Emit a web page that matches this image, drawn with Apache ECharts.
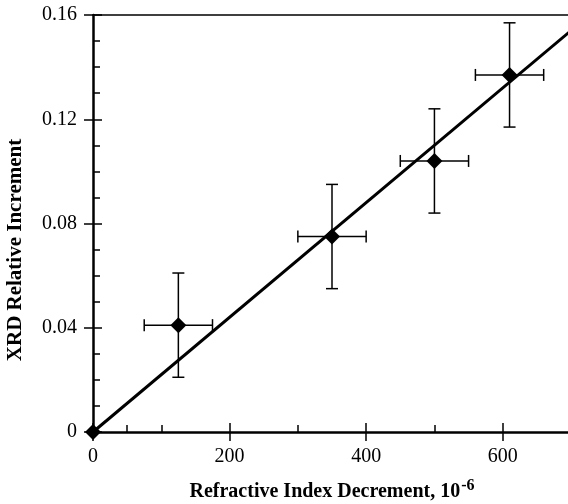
<!DOCTYPE html>
<html>
<head>
<meta charset="utf-8">
<script src="https://cdn.jsdelivr.net/npm/echarts@6/dist/echarts.min.js"></script>
<style>
  html, body { margin: 0; padding: 0; background: #fff; }
  #chart { width: 568px; height: 504px; }
</style>
</head>
<body>
<div id="chart"></div>
<script>
// Measured points: refractive index decrement (1e-6) vs XRD relative increment
const decrement = [0, 125, 350, 500, 610];
const increment = [0, 0.041, 0.075, 0.104, 0.137];
const decrementErr = [0, 50, 50, 50, 50];
const incrementErr = [0, 0.02, 0.02, 0.02, 0.02];

// Linear fit through the origin
const fitX = [0, 700];
const fitY = [0, 0.154];

// Axis ranges and ticks
const xRange = [0, 700];
const yRange = [0, 0.16];
const xStep = 200;
const yStep = 0.04;
const xMinorTicks = [50, 100, 300, 500];

const serif = '"Liberation Serif", "Times New Roman", serif';

const points = decrement.map((x, i) => [x, increment[i]]);
const errData = decrement.map((x, i) => [x, increment[i], decrementErr[i], incrementErr[i]]);
const fitData = fitX.map((x, i) => [x, fitY[i]]);

function renderErr(params, api) {
  const x = api.value(0), y = api.value(1), dx = api.value(2), dy = api.value(3);
  if (!dx && !dy) return null;
  const top = api.coord([x, y + dy]);
  const bot = api.coord([x, y - dy]);
  const lft = api.coord([x - dx, y]);
  const rgt = api.coord([x + dx, y]);
  const cap = 6;
  const style = { stroke: '#000', lineWidth: 1.5, fill: null };
  const line = (x1, y1, x2, y2) => ({ type: 'line', shape: { x1, y1, x2, y2 }, style });
  return {
    type: 'group',
    children: [
      line(top[0], top[1], bot[0], bot[1]),
      line(top[0] - cap, top[1], top[0] + cap, top[1]),
      line(bot[0] - cap, bot[1], bot[0] + cap, bot[1]),
      line(lft[0], lft[1], rgt[0], rgt[1]),
      line(lft[0], lft[1] - cap, lft[0], lft[1] + cap),
      line(rgt[0], rgt[1] - cap, rgt[0], rgt[1] + cap)
    ]
  };
}

const hidden = { show: false };
const baseX = { type: 'value', min: xRange[0], max: xRange[1], interval: xStep, splitLine: hidden };
const baseY = { type: 'value', min: yRange[0], max: yRange[1], interval: yStep, splitLine: hidden };

const chart = echarts.init(document.getElementById('chart'), null, { renderer: 'canvas' });
chart.setOption({
  animation: false,
  backgroundColor: '#fff',
  grid: { left: 93, right: -3, top: 15, bottom: 72, containLabel: false, outerBoundsMode: 'none' },
  xAxis: [
    Object.assign({}, baseX, {
      position: 'bottom',
      axisLine: { show: true, lineStyle: { color: '#000', width: 2.5 } },
      axisTick: { show: true, inside: false, length: 9, lineStyle: { color: '#000', width: 1.5 } },
      axisLabel: {
        show: true, margin: 15, color: '#000', fontFamily: serif, fontSize: 20,
        showMaxLabel: false,
        formatter: v => (v >= xRange[1] ? '' : String(v))
      },
      name: '{m|Refractive Index Decrement, 10}{s|-6}',
      nameLocation: 'middle',
      nameGap: 46,
      nameTextStyle: {
        rich: {
          m: { fontFamily: serif, fontSize: 20, fontWeight: 'bold', color: '#000', verticalAlign: 'bottom', lineHeight: 24 },
          s: { fontFamily: serif, fontSize: 16, fontWeight: 'bold', color: '#000', verticalAlign: 'top', lineHeight: 24, padding: [0, 0, 10, 1] }
        }
      }
    }),
    Object.assign({}, baseX, {
      position: 'bottom',
      axisLine: { show: false },
      axisTick: { show: true, inside: true, length: 9, lineStyle: { color: '#000', width: 1.5 } },
      axisLabel: { show: false }
    }),
    Object.assign({}, baseX, {
      position: 'bottom',
      axisLine: { show: false },
      axisTick: { show: true, inside: true, length: 7, customValues: xMinorTicks, lineStyle: { color: '#000', width: 1.5 } },
      axisLabel: { show: false }
    }),
    Object.assign({}, baseX, {
      position: 'top',
      axisLine: { show: true, lineStyle: { color: '#000', width: 1.5 } },
      axisTick: hidden,
      axisLabel: hidden
    })
  ],
  yAxis: [
    Object.assign({}, baseY, {
      position: 'left',
      axisLine: { show: true, lineStyle: { color: '#000', width: 2.5 } },
      axisTick: { show: true, inside: false, length: 9, lineStyle: { color: '#000', width: 1.5 } },
      axisLabel: {
        show: true, margin: 16, color: '#000', fontFamily: serif, fontSize: 20,
        formatter: v => (v === 0 ? '0' : v.toFixed(2))
      }
    }),
    Object.assign({}, baseY, {
      position: 'left',
      axisLine: { show: false },
      axisTick: { show: true, inside: true, length: 9, lineStyle: { color: '#000', width: 1.5 } },
      minorTick: { show: true, splitNumber: 4, length: 7, lineStyle: { color: '#000', width: 1.5 } },
      axisLabel: hidden
    })
  ],
  graphic: [{
    type: 'text',
    x: 16,
    y: 250,
    rotation: Math.PI / 2,
    style: {
      text: 'XRD Relative Increment',
      fontFamily: serif,
      fontSize: 21,
      fontWeight: 'bold',
      fill: '#000',
      align: 'center',
      verticalAlign: 'middle'
    }
  }],
  series: [
    {
      type: 'line',
      data: fitData,
      symbol: 'none',
      lineStyle: { color: '#000', width: 3 },
      z: 2
    },
    {
      type: 'custom',
      data: errData,
      renderItem: renderErr,
      encode: { x: 0, y: 1 },
      clip: false,
      z: 3
    },
    {
      type: 'scatter',
      data: points,
      symbol: 'diamond',
      symbolSize: 16,
      itemStyle: { color: '#000', opacity: 1 },
      clip: false,
      z: 4
    }
  ]
});
</script>
</body>
</html>
